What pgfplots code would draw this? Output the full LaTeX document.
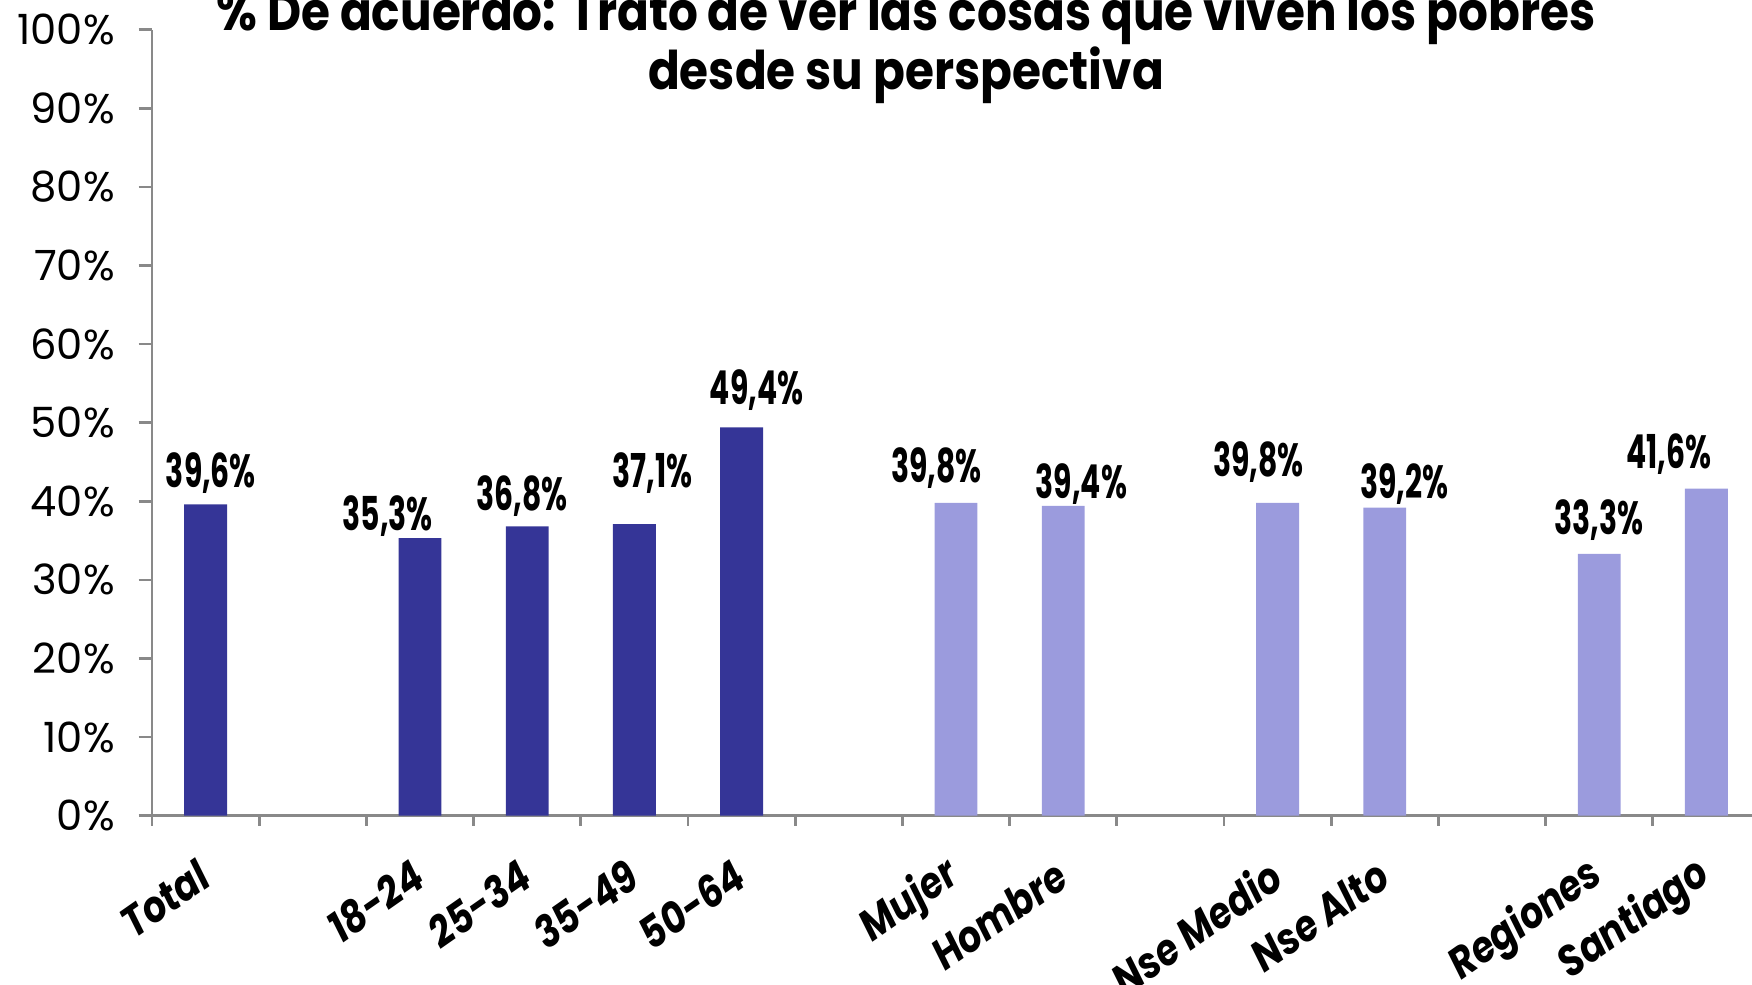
\documentclass[border=0pt]{standalone}
\usepackage{fontspec}
\setmainfont{Poppins}
\newfontfamily\titlefont{Poppins}[FakeStretch=0.88]
\newfontfamily\labfont{Poppins}[FakeStretch=0.64]
\newfontfamily\catfont{Poppins}[FakeStretch=0.85]
\usepackage{pgfplots}
\pgfplotsset{compat=1.18}
\usepackage{pgfplotstable}
\definecolor{darkbar}{HTML}{353597}
\definecolor{lightbar}{HTML}{9B9BDD}
\definecolor{axgray}{HTML}{898989}

\pgfplotstableread{
x y
0 39.6
2 35.3
3 36.8
4 37.1
5 49.4
}\darkdata

\pgfplotstableread{
x y
7 39.8
8 39.4
10 39.8
11 39.2
13 33.3
14 41.6
}\lightdata

\pgfplotstableread{
x ly v
0.05 43.6 39.6
1.70 38.1 35.3
2.95 40.6 36.8
4.17 43.6 37.1
5.14 54.1 49.4
6.82 44.2 39.8
8.17 42.2 39.4
9.82 45.0 39.8
11.18 42.2 39.2
13.00 37.6 33.3
13.65 46.0 41.6
}\labdata

\begin{document}
\begin{tikzpicture}
\begin{axis}[
  at={(0,0)}, anchor=south west,
  scale only axis, width=482.4pt, height=235.8pt,
  xmin=-0.5, xmax=14.5, ymin=0, ymax=100,
  clip=false,
  axis lines*=left,
  axis line style={draw=axgray, line width=0.8pt},
  tick style={draw=axgray, line width=0.8pt},
  tick align=outside,
  major tick length=4pt,
  minor tick length=3pt,
  ytick={0,10,...,100},
  yticklabel={\pgfmathprintnumber{\tick}\%},
  /pgf/number format/assume math mode=true,
  yticklabel style={anchor=east, inner sep=0pt, xshift=-7pt, font=\fontsize{12.5}{14}\selectfont, text=black},
  xtick={0,...,14},
  xticklabels={Total,,18-24,25-34,35-49,50-64,,Mujer,Hombre,,Nse Medio,Nse Alto,,Regiones,Santiago},
  major x tick style={draw=none},
  minor xtick={-0.5,0.5,...,14.5},
  xticklabel style={xshift=-0.3pt, yshift=-12.5pt, rotate=35, anchor=east, inner sep=0pt, font=\catfont\bfseries\itshape\fontsize{13}{15}\selectfont, text=black},
]
\addplot[ybar, bar width=0.4, bar shift=0pt, fill=darkbar, draw=none] table[x=x,y=y]{\darkdata};
\addplot[ybar, bar width=0.4, bar shift=0pt, fill=lightbar, draw=none] table[x=x,y=y]{\lightdata};
\addplot[draw=none, mark=none, point meta=explicit,
  nodes near coords={\pgfmathprintnumber[fixed,fixed zerofill,precision=1,use comma]{\pgfplotspointmeta}\%},
  nodes near coords style={anchor=center, inner sep=0pt, font=\labfont\bfseries\fontsize{14}{16}\selectfont, text=black}]
  table[x=x,y=ly,meta=v]{\labdata};
\end{axis}
\node[font=\titlefont\bfseries\fontsize{16}{18}\selectfont, anchor=base] at (226.2pt,235.7pt) {\% De acuerdo: Trato de ver las cosas que viven los pobres};
\node[font=\titlefont\bfseries\fontsize{16}{18}\selectfont, anchor=base] at (226.2pt,218pt) {desde su perspectiva};
\pgfresetboundingbox
\useasboundingbox (-45.6pt,-50.5pt) rectangle (480pt,244.7pt);
\end{tikzpicture}
\end{document}
